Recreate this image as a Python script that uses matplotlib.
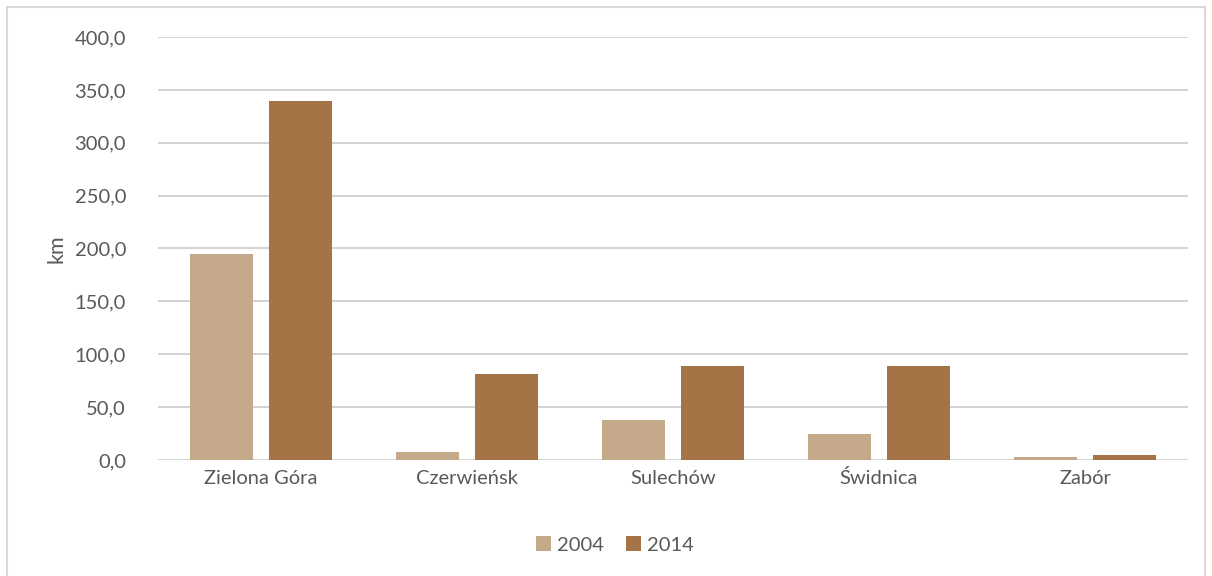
import matplotlib
matplotlib.use("Agg")
import matplotlib.pyplot as plt
import numpy as np
from matplotlib.patches import Rectangle
from matplotlib.ticker import FuncFormatter

categories = ["Zielona Góra", "Czerwieńsk", "Sulechów", "Świdnica", "Zabór"]
series_names = ["2004", "2014"]
values_2004 = [194.5, 7.6, 37.8, 24.6, 3.3]
values_2014 = [339.5, 81.5, 88.5, 89.2, 4.8]
colors = ["#C5A98B", "#A47346"]

plt.rcParams['font.family'] = ['Lato', 'DejaVu Sans']
text_color = "#595959"
fs = 14.5

fig = plt.figure(figsize=(12.12, 5.76), dpi=100)
fig.patches.append(Rectangle((7/1212, -0.01), 1198/1212, 1 - 7/576 + 0.01,
                             transform=fig.transFigure, fill=False,
                             edgecolor="#D9D9D9", linewidth=1.5))
ax = fig.add_axes([158/1212, 1 - 460/576, 1030/1212, 423/576])

x = np.arange(len(categories))
w = 0.306
off = 0.194
ax.bar(x - off, values_2004, w, color=colors[0], label=series_names[0], zorder=3)
ax.bar(x + off, values_2014, w, color=colors[1], label=series_names[1], zorder=3)

ax.set_xlim(-0.5, len(categories) - 0.5)
ax.set_ylim(0, 400)
ax.set_yticks(np.arange(0, 401, 50))
ax.yaxis.set_major_formatter(FuncFormatter(lambda v, p: f"{v:.1f}".replace(".", ",")))
ax.grid(axis="y", color="#D0D0D0", linewidth=1.3, zorder=0)
for s in ax.spines.values():
    s.set_visible(False)
ax.tick_params(axis="both", length=0, labelsize=fs, colors=text_color)
ax.tick_params(axis="y", pad=23)
ax.tick_params(axis="x", pad=17)
ax.set_xticks(x)
ax.set_xticklabels(categories)
for lbl in ax.get_xticklabels():
    lbl.set_verticalalignment("baseline")
ax.set_ylabel("km", fontsize=fs + 1, color=text_color, labelpad=6)

leg = ax.legend(loc="center", bbox_to_anchor=(615/1212, 1 - 545/576),
                bbox_transform=fig.transFigure, ncol=2, frameon=False,
                fontsize=fs, handlelength=0.75, handleheight=0.75,
                handletextpad=0.3, columnspacing=1.1)
for t in leg.get_texts():
    t.set_color(text_color)

fig.savefig("out.png", dpi=100)
